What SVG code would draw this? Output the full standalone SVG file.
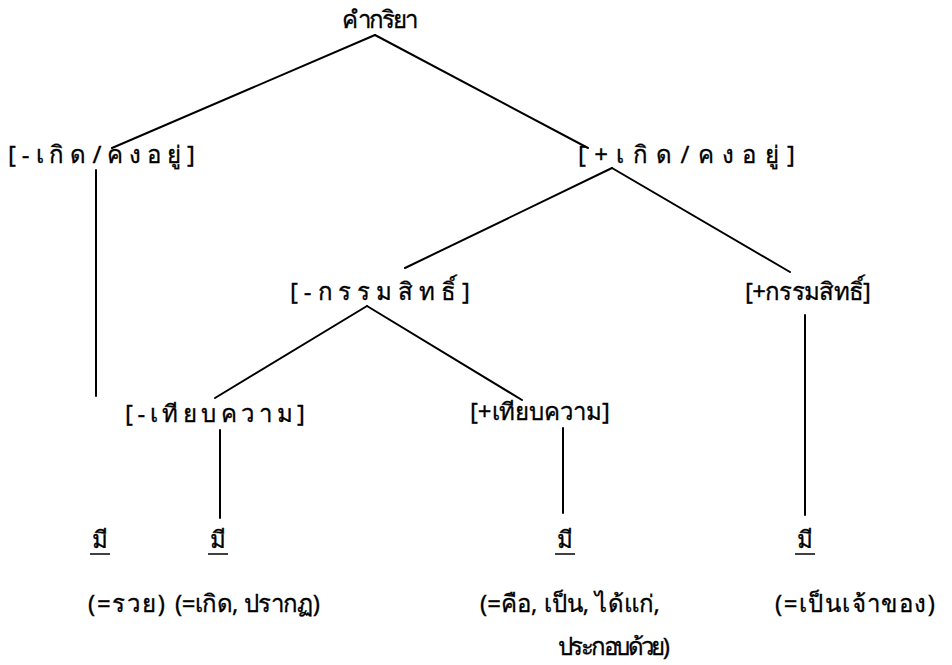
<svg xmlns="http://www.w3.org/2000/svg" width="952" height="665" viewBox="0 0 952 665">
<style>
text{font-family:"Noto Sans","DejaVu Sans",sans-serif;font-size:24px;fill:#000;stroke:#000;stroke-width:0.3}
.e{stroke:#000;stroke-width:2;fill:none;stroke-linecap:round}
.u{stroke:#000;stroke-width:1.5}
</style>
<rect width="952" height="665" fill="#fff"/>
<g id="connectors">
<line class="e" x1="375" y1="35" x2="112" y2="148"/>
<line class="e" x1="375" y1="35" x2="588" y2="148"/>
<line class="e" x1="96" y1="170" x2="96" y2="396"/>
<line class="e" x1="612" y1="168" x2="405" y2="268"/>
<line class="e" x1="612" y1="168" x2="790" y2="272"/>
<line class="e" x1="367" y1="306" x2="215" y2="398"/>
<line class="e" x1="367" y1="306" x2="522" y2="400"/>
<line class="e" x1="220" y1="430" x2="220" y2="518"/>
<line class="e" x1="563" y1="428" x2="563" y2="513"/>
<line class="e" x1="805" y1="315" x2="805" y2="515"/>
</g>
<g id="root"><text x="340" y="28" textLength="76" lengthAdjust="spacing">คำกริยา</text></g>
<g id="minus-exist"><text x="8" y="163" textLength="187" lengthAdjust="spacing">[-เกิด/คงอยู่]</text></g>
<g id="plus-exist"><text x="578" y="163" textLength="217" lengthAdjust="spacing">[+เกิด/คงอยู่]</text></g>
<g id="minus-own"><text x="290" y="300" textLength="180" lengthAdjust="spacing">[-กรรมสิทธิ์]</text></g>
<g id="plus-own"><text x="745" y="300" textLength="126" lengthAdjust="spacing">[+กรรมสิทธิ์]</text></g>
<g id="minus-cmp"><text x="125" y="422" textLength="180" lengthAdjust="spacing">[-เทียบความ]</text></g>
<g id="plus-cmp"><text x="470" y="420" textLength="140" lengthAdjust="spacing">[+เทียบความ]</text></g>
<g id="leaf1"><text x="100" y="548" text-anchor="middle">มี</text><line class="u" x1="90" y1="554" x2="110" y2="554"/><text x="88" y="612" textLength="77" lengthAdjust="spacing">(=รวย)</text></g>
<g id="leaf2"><text x="218" y="548" text-anchor="middle">มี</text><line class="u" x1="208" y1="554" x2="228" y2="554"/><text x="175" y="612" textLength="145" lengthAdjust="spacing">(=เกิด, ปรากฏ)</text></g>
<g id="leaf3"><text x="565" y="548" text-anchor="middle">มี</text><line class="u" x1="555" y1="554" x2="575" y2="554"/><text x="480" y="612" textLength="180" lengthAdjust="spacing">(=คือ, เป็น, ได้แก่,</text><text x="558" y="655" textLength="112" lengthAdjust="spacing">ประกอบด้วย)</text></g>
<g id="leaf4"><text x="805" y="548" text-anchor="middle">มี</text><line class="u" x1="795" y1="554" x2="815" y2="554"/><text x="775" y="612" textLength="160" lengthAdjust="spacing">(=เป็นเจ้าของ)</text></g>
</svg>
